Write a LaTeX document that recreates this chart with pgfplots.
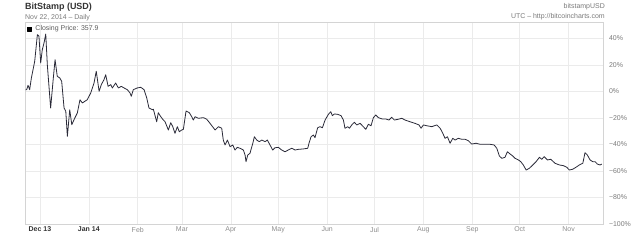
\documentclass[border=0pt]{standalone}
\usepackage{pgfplots}
\pgfplotsset{compat=1.18}
\usepackage{fontspec}
\setmainfont{Liberation Sans}
\definecolor{linec}{HTML}{2A2A38}
\definecolor{gridc}{HTML}{EBEBEB}
\definecolor{framec}{HTML}{D4D4D4}
\definecolor{txtgray}{HTML}{7A7A7A}
\definecolor{txtdark}{HTML}{333333}
\pgfplotstableread{
day pct
0.0 1.3
0.6 1.3
1.5 4.6
2.5 1.3
3.6 10.1
5.7 22.7
7.4 42.8
8.4 41.6
9.5 21.4
10.5 31.4
11.6 36.5
12.7 43.3
13.7 20.1
15.8 -12.5
17.5 10.1
18.6 23.9
20.0 11.4
21.6 10.1
22.8 7.6
24.3 -12.5
25.4 -15.0
26.4 -33.9
27.9 -13.8
29.2 -25.1
31.1 -20.1
32.7 -16.3
34.4 -6.3
35.9 -8.7
39.0 -6.3
41.2 -1.2
43.3 6.3
44.7 15.2
46.5 0.1
47.9 5.1
49.6 8.8
50.7 12.6
52.2 3.8
53.9 5.1
54.9 2.6
57.0 6.3
58.7 2.6
60.6 3.8
62.3 2.6
64.4 1.3
66.1 -1.2
66.9 -3.7
68.2 1.3
70.7 2.6
72.9 3.1
75.0 1.3
76.7 -5.0
78.1 -12.5
80.2 -13.8
80.9 -13.5
83.0 -22.9
84.0 -16.1
85.6 -19.1
86.8 -21.0
88.3 -22.9
90.4 -29.1
91.9 -23.6
93.2 -26.6
94.6 -31.6
96.1 -26.6
97.3 -30.4
98.9 -29.1
99.9 -28.6
101.6 -14.8
103.7 -16.1
105.2 -19.1
106.2 -21.6
107.3 -19.1
109.4 -20.3
112.6 -19.8
114.7 -21.0
116.8 -24.1
120.0 -29.1
122.1 -26.6
124.2 -27.8
125.2 -36.7
126.3 -40.4
127.8 -36.7
129.5 -41.7
131.2 -40.4
132.6 -44.2
134.1 -42.2
135.8 -42.9
137.9 -44.2
139.0 -48.0
139.6 -53.0
140.7 -48.0
142.1 -46.7
143.9 -39.1
144.9 -34.2
146.4 -36.7
148.0 -37.9
149.6 -36.7
151.7 -37.9
153.1 -36.7
154.8 -40.4
156.5 -44.2
158.0 -42.5
160.1 -42.2
162.2 -44.2
164.3 -45.5
166.4 -44.2
168.6 -42.9
170.7 -44.2
172.8 -43.7
175.9 -43.4
178.7 -42.9
179.5 -39.1
180.8 -34.2
182.3 -32.9
183.3 -34.9
185.0 -27.4
186.5 -26.6
188.0 -27.4
189.7 -21.6
191.8 -17.3
193.3 -15.3
194.3 -18.3
195.6 -17.0
197.7 -17.3
199.8 -18.3
201.3 -21.6
202.3 -27.8
204.1 -26.6
205.1 -27.8
206.6 -25.3
208.2 -23.3
209.8 -25.3
211.9 -24.1
213.9 -26.6
215.5 -28.6
217.1 -24.8
218.8 -25.9
220.3 -19.8
221.8 -17.8
223.5 -19.8
226.0 -20.8
228.1 -20.8
230.2 -21.6
231.9 -19.5
233.6 -21.6
236.1 -21.0
238.3 -20.3
240.4 -21.6
243.5 -22.9
246.7 -24.1
249.2 -25.3
250.5 -27.8
252.0 -25.3
254.1 -25.9
257.3 -26.6
260.5 -25.3
262.6 -27.8
264.3 -31.6
265.7 -35.4
267.2 -34.2
268.9 -39.1
270.6 -35.4
272.1 -36.7
274.1 -35.4
276.3 -36.1
278.4 -36.1
280.5 -37.2
282.6 -39.7
285.4 -39.1
287.9 -39.9
291.1 -39.9
294.2 -39.9
296.8 -40.4
298.5 -42.9
300.1 -48.7
301.7 -50.5
303.7 -49.7
305.2 -45.5
306.9 -47.2
308.6 -48.7
310.1 -50.5
312.2 -51.7
313.7 -53.0
315.3 -55.5
317.1 -59.3
319.1 -58.0
321.3 -55.5
323.4 -53.0
325.5 -49.7
327.0 -51.2
328.5 -49.2
330.6 -51.7
332.7 -51.2
335.4 -54.2
338.2 -55.5
340.7 -56.0
342.8 -57.2
344.5 -59.3
346.6 -58.7
348.7 -57.2
350.8 -55.5
353.0 -54.2
354.4 -46.2
355.9 -48.0
357.6 -51.7
359.3 -53.0
360.8 -53.0
362.2 -54.8
363.9 -55.5
365.0 -54.8
}\pricedata
\begin{document}
\begin{tikzpicture}[x=1bp,y=1bp]
\useasboundingbox (0,0) rectangle (640,241);
\node[anchor=base west, inner sep=0, font=\bfseries\fontsize{9}{10}\selectfont, text=txtdark] at (25,231.5) {BitStamp (USD)};
\node[anchor=base west, inner sep=0, font=\fontsize{7}{8}\selectfont, text=txtgray] at (25,221.5) {Nov 22, 2014 – Daily};
\node[anchor=base east, inner sep=0, font=\fontsize{7}{8}\selectfont, text=txtgray] at (605,233) {bitstampUSD};
\node[anchor=base east, inner sep=0, font=\fontsize{7}{8}\selectfont, text=txtgray] at (605,222.5) {UTC – http://bitcoincharts.com};
\begin{axis}[
  at={(25.7bp,17bp)}, anchor=south west,
  scale only axis, width=577.3bp, height=201.3bp,
  xmin=0, xmax=365.8, ymin=-100, ymax=51.8,
  axis line style={draw=framec, line width=0.6bp},
  major tick length=0pt,
  grid=major, grid style={draw=gridc, line width=0.6bp},
  xtick={9,40,71,99,130,160,191,221,252,283,313,344},
  xticklabels={\textbf{\color{txtdark}Dec 13},\textbf{\color{txtdark}Jan 14},Feb,Mar,Apr,May,Jun,Jul,Aug,Sep,Oct,Nov},
  xticklabel style={font=\fontsize{7}{8}\selectfont, text=txtgray!85, yshift=0.5bp},
  ytick={-100,-80,-60,-40,-20,0,20,40},
  yticklabels={−100\%,−80\%,−60\%,−40\%,−20\%,0\%,20\%,40\%},
  yticklabel pos=right,
  yticklabel style={font=\fontsize{7}{8}\selectfont, text=txtgray, xshift=2.5bp},
  /pgf/number format/assume math mode=true,
  legend style={at={(rel axis cs:0,1)}, anchor=north west, draw=none, fill=none,
    font=\fontsize{7}{8}\selectfont, text=txtdark!80, inner sep=0bp, xshift=1.3bp, yshift=-1bp},
  legend cell align=left,
  legend image code/.code={\fill[black] (0bp,-2bp) rectangle (4.2bp,2.2bp); \path (5.5bp,0bp);},
  legend style={/tikz/every odd column/.append style={column sep=0bp}},
]
\addplot[linec, line width=0.8bp, line join=round, no markers] table[x=day,y=pct] {\pricedata};
\addlegendentry{Closing Price: 357.9}
\end{axis}
\end{tikzpicture}
\end{document}
